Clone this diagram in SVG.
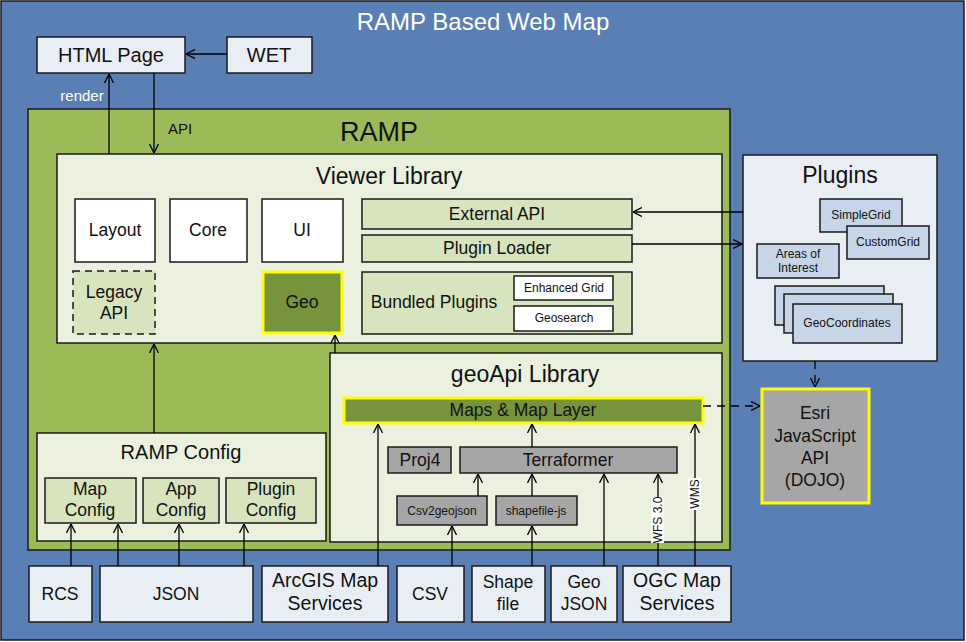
<svg xmlns="http://www.w3.org/2000/svg" width="966" height="642" viewBox="0 0 966 642">
<defs>
<marker id="ah" viewBox="0 0 9 10" refX="9" refY="5" markerWidth="9" markerHeight="10" markerUnits="userSpaceOnUse" orient="auto">
<path d="M0,0.5 L9,5 L0,9.5" fill="none" stroke="#000" stroke-width="1.3"/>
</marker>
<style>
text{font-family:"Liberation Sans",Arial,sans-serif;fill:#111;text-anchor:middle}
.b{stroke:#1a1a1a;stroke-width:1.5}
.lb{fill:#e9eef5}
.gr{fill:#9bbb59}
.pg{fill:#ebf1de}
.lg{fill:#d7e4bd}
.dg{fill:#77933c}
.gy{fill:#a6a6a6}
.pb{fill:#c6d5e8}
.wh{fill:#fff}
.yl{stroke:#ffff00;stroke-width:3}
.c line,.c path{stroke:#000;stroke-width:1.3;fill:none}
.ar{marker-end:url(#ah)}
.dash{stroke-dasharray:8,6}
</style>
</defs>
<g id="web-map">
<rect x="1" y="1" width="963" height="639" fill="#5a7fb4" stroke="#1a1a1a" stroke-width="1.5"/>
<text x="483" y="30" font-size="24" style="fill:#fff">RAMP Based Web Map</text>
</g>
<g id="html-page"><rect class="b lb" x="37" y="37" width="148" height="36"/><text x="111" y="62" font-size="20">HTML Page</text></g>
<g id="wet"><rect class="b lb" x="227" y="37" width="85" height="36"/><text x="269" y="62" font-size="20">WET</text></g>
<g id="ramp"><rect class="b gr" x="28" y="109" width="702" height="441"/><text x="379" y="141" font-size="27">RAMP</text></g>
<g id="viewer-library"><rect class="b pg" x="57" y="154" width="665" height="189"/><text x="389" y="184" font-size="23">Viewer Library</text></g>
<g id="layout"><rect class="b wh" x="75" y="199" width="80" height="63"/><text x="115" y="236" font-size="17.5">Layout</text></g>
<g id="core"><rect class="b wh" x="170" y="199" width="77" height="63"/><text x="208" y="236" font-size="17.5">Core</text></g>
<g id="ui"><rect class="b wh" x="262" y="199" width="81" height="63"/><text x="302" y="236" font-size="17.5">UI</text></g>
<g id="legacy-api"><rect class="b lg" x="73" y="271" width="82" height="63" stroke-dasharray="7,5"/><text x="114" y="298" font-size="17.5">Legacy</text><text x="114" y="319" font-size="17.5">API</text></g>
<g id="geo"><rect class="dg yl" x="263" y="272" width="79" height="61"/><text x="302" y="308" font-size="17.5">Geo</text></g>
<g id="external-api"><rect class="b lg" x="362" y="199" width="270" height="30"/><text x="497" y="220" font-size="17.5">External API</text></g>
<g id="plugin-loader"><rect class="b lg" x="362" y="235" width="270" height="27"/><text x="497" y="254" font-size="17.5">Plugin Loader</text></g>
<g id="bundled-plugins"><rect class="b lg" x="362" y="272" width="270" height="62"/><text x="434" y="308" font-size="17.5">Bundled Plugins</text></g>
<g id="enhanced-grid"><rect class="b wh" x="514" y="276" width="99" height="24"/><text x="564" y="292" font-size="12">Enhanced Grid</text></g>
<g id="geosearch"><rect class="b wh" x="514" y="306" width="99" height="25"/><text x="564" y="322" font-size="12">Geosearch</text></g>
<g id="plugins"><rect class="b lb" x="743" y="155" width="194" height="206"/><text x="840" y="183" font-size="23">Plugins</text></g>
<g id="simplegrid"><rect class="b pb" x="820" y="199" width="82" height="33"/><text x="861" y="219" font-size="12">SimpleGrid</text></g>
<g id="customgrid"><rect class="b pb" x="847" y="226" width="82" height="33"/><text x="888" y="246" font-size="12">CustomGrid</text></g>
<g id="areas-of-interest"><rect class="b pb" x="757" y="244" width="82" height="34"/><text x="798" y="258" font-size="12">Areas of</text><text x="798" y="272" font-size="12">Interest</text></g>
<g id="geocoordinates"><rect class="b pb" x="775" y="286" width="109" height="39"/><rect class="b pb" x="784" y="294" width="109" height="39"/><rect class="b pb" x="793" y="304" width="109" height="39"/><text x="847" y="327" font-size="12">GeoCoordinates</text></g>
<g id="esri-api"><rect class="gy yl" x="762" y="389" width="107" height="114"/><text x="815" y="419" font-size="17.5">Esri</text><text x="815" y="442" font-size="17.5">JavaScript</text><text x="815" y="464" font-size="17.5">API</text><text x="815" y="486" font-size="17.5">(DOJO)</text></g>
<g id="geoapi-library"><rect class="b pg" x="330" y="353" width="392" height="189"/><text x="525" y="382" font-size="23">geoApi Library</text></g>
<g id="maps-map-layer"><rect class="dg yl" x="344" y="398" width="359" height="25"/><text x="523" y="416" font-size="17.5">Maps &amp; Map Layer</text></g>
<g id="proj4"><rect class="b gy" x="388" y="447" width="63" height="26"/><text x="420" y="466" font-size="17.5">Proj4</text></g>
<g id="terraformer"><rect class="b gy" x="460" y="447" width="217" height="26"/><text x="568" y="466" font-size="17.5">Terraformer</text></g>
<g id="csv2geojson"><rect class="b gy" x="397" y="496" width="90" height="29"/><text x="442" y="515" font-size="12">Csv2geojson</text></g>
<g id="shapefile-js"><rect class="b gy" x="496" y="496" width="81" height="29"/><text x="536" y="515" font-size="12">shapefile-js</text></g>
<g id="ramp-config"><rect class="b pg" x="37" y="433" width="289" height="108"/><text x="181" y="459" font-size="20">RAMP Config</text></g>
<g id="map-config"><rect class="b lg" x="45" y="478" width="91" height="45"/><text x="90" y="495" font-size="17.5">Map</text><text x="90" y="516" font-size="17.5">Config</text></g>
<g id="app-config"><rect class="b lg" x="143" y="478" width="76" height="45"/><text x="181" y="495" font-size="17.5">App</text><text x="181" y="516" font-size="17.5">Config</text></g>
<g id="plugin-config"><rect class="b lg" x="226" y="478" width="90" height="45"/><text x="271" y="495" font-size="17.5">Plugin</text><text x="271" y="516" font-size="17.5">Config</text></g>
<g id="rcs"><rect class="b lb" x="29" y="566" width="63" height="56"/><text x="60" y="600" font-size="17.5">RCS</text></g>
<g id="json"><rect class="b lb" x="100" y="566" width="153" height="56"/><text x="176" y="600" font-size="17.5">JSON</text></g>
<g id="arcgis"><rect class="b lb" x="262" y="566" width="126" height="56"/><text x="325" y="587" font-size="19.5">ArcGIS Map</text><text x="325" y="610" font-size="19.5">Services</text></g>
<g id="csv"><rect class="b lb" x="397" y="566" width="67" height="56"/><text x="430" y="600" font-size="17.5">CSV</text></g>
<g id="shapefile"><rect class="b lb" x="472" y="566" width="73" height="56"/><text x="508" y="588" font-size="17.5">Shape</text><text x="508" y="610" font-size="17.5">file</text></g>
<g id="geojson"><rect class="b lb" x="551" y="566" width="66" height="56"/><text x="584" y="588" font-size="17.5">Geo</text><text x="584" y="610" font-size="17.5">JSON</text></g>
<g id="ogc"><rect class="b lb" x="623" y="566" width="108" height="56"/><text x="677" y="587" font-size="19.5">OGC Map</text><text x="677" y="610" font-size="19.5">Services</text></g>
<g id="connectors" class="c">
<line class="ar" x1="227" y1="54" x2="186" y2="54"/>
<line class="ar" x1="109" y1="154" x2="109" y2="74"/>
<line class="ar" x1="154" y1="73" x2="154" y2="153"/>
<line class="ar" x1="743" y1="212" x2="633" y2="212"/>
<line class="ar" x1="632" y1="244" x2="742" y2="244"/>
<line class="ar dash" x1="815" y1="361" x2="815" y2="387"/>
<line class="ar dash" x1="703" y1="406" x2="760" y2="406"/>
<line class="ar" x1="154" y1="433" x2="154" y2="344"/>
<line class="ar" x1="335" y1="353" x2="335" y2="335"/>
<line class="ar" x1="71" y1="566" x2="71" y2="524"/>
<line class="ar" x1="118" y1="566" x2="118" y2="524"/>
<line class="ar" x1="179" y1="566" x2="179" y2="524"/>
<line class="ar" x1="244" y1="566" x2="244" y2="524"/>
<line class="ar" x1="378" y1="566" x2="378" y2="424"/>
<line class="ar" x1="532" y1="447" x2="532" y2="424"/>
<line class="ar" x1="695" y1="566" x2="695" y2="424"/>
<line class="ar" x1="478" y1="496" x2="478" y2="474"/>
<line class="ar" x1="532" y1="496" x2="532" y2="474"/>
<line class="ar" x1="604" y1="566" x2="604" y2="474"/>
<line class="ar" x1="658" y1="566" x2="658" y2="474"/>
<line class="ar" x1="452" y1="566" x2="452" y2="526"/>
<line class="ar" x1="532" y1="566" x2="532" y2="526"/>
<text x="82" y="101" font-size="15" style="fill:#fff">render</text>
<text x="180" y="134" font-size="15">API</text>
<rect x="651" y="497" width="13" height="46" fill="#fff" stroke="none"/>
<text transform="translate(662,520) rotate(-90)" font-size="12">WFS 3.0</text>
<rect x="688" y="478" width="13" height="32" fill="#fff" stroke="none"/>
<text transform="translate(699,494) rotate(-90)" font-size="12">WMS</text>
</g>
</svg>
